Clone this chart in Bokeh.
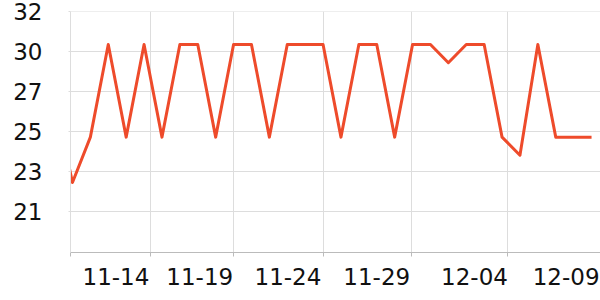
from bokeh.plotting import figure
from bokeh.models import FixedTicker, Range1d, NumeralTickFormatter
from bokeh.embed import file_html
from bokeh.resources import INLINE

# one reading per day, first one (11-09) lies just left of the visible window
dates = ["11-09", "11-10", "11-11", "11-12", "11-13", "11-14", "11-15", "11-16",
         "11-17", "11-18", "11-19", "11-20", "11-21", "11-22", "11-23", "11-24",
         "11-25", "11-26", "11-27", "11-28", "11-29", "11-30", "12-01", "12-02",
         "12-03", "12-04", "12-05", "12-06", "12-07", "12-08", "12-09"]
temps = [27.0, 22.4, 24.9, 30.0, 24.9, 30.0, 24.9, 30.0, 30.0, 24.9, 30.0,
         30.0, 24.9, 30.0, 30.0, 30.0, 24.9, 30.0, 30.0, 24.9, 30.0, 30.0,
         29.0, 30.0, 30.0, 24.9, 23.9, 30.0, 24.9, 24.9, 24.9]

x_labels = ["11-14", "11-19", "11-24", "11-29", "12-04", "12-09"]
x_label_pos = [3.43, 8.11, 13.04, 18.0, 23.46, 28.58]
x_grid_pos = [5.36, 10.0, 15.0, 19.94, 25.3]
y_ticks = [20.8, 23.0, 25.2, 27.4, 29.6, 31.8]

xs = list(range(len(dates)))

p = figure(width=600, height=300, output_backend="svg", toolbar_location=None,
           x_range=Range1d(0.89, 30.5), y_range=Range1d(18.545, 31.82),
           min_border_left=70, min_border_right=0, min_border_top=11,
           min_border_bottom=48)
p.outline_line_color = None
p.background_fill_color = "white"
p.border_fill_color = "white"

p.line(xs, temps, line_color="#EE4B2B", line_width=3, line_join="round")

font = "DejaVu Sans"
# x axis
p.xaxis.ticker = FixedTicker(ticks=x_label_pos, minor_ticks=[0.89] + x_grid_pos)
p.xaxis.major_label_overrides = {x_label_pos[i]: x_labels[i] for i in range(len(x_labels))}
p.xaxis.major_tick_out = 0
p.xaxis.major_tick_in = 0
p.xaxis.minor_tick_out = 4
p.xaxis.minor_tick_in = 0
p.xaxis.minor_tick_line_color = "#bbbbbb"
p.xaxis.axis_line_color = "#bbbbbb"
p.xaxis.major_label_text_font = font
p.xaxis.major_label_text_font_size = "23px"
p.xaxis.major_label_text_color = "#111111"
p.xaxis.major_label_standoff = 11

# y axis
p.yaxis.ticker = FixedTicker(ticks=y_ticks)
p.yaxis.formatter = NumeralTickFormatter(format="0")
p.yaxis.axis_line_color = "#dddddd"
p.yaxis.major_tick_line_color = "#dddddd"
p.yaxis.major_tick_out = 2
p.yaxis.major_tick_in = 0
p.yaxis.minor_tick_line_color = None
p.yaxis.major_label_text_font = font
p.yaxis.major_label_text_font_size = "23px"
p.yaxis.major_label_text_color = "#111111"
p.yaxis.major_label_standoff = 26

p.xgrid.ticker = FixedTicker(ticks=x_grid_pos)
p.xgrid.grid_line_color = "#dddddd"
p.ygrid.grid_line_color = "#dddddd"

open("out.html", "w").write(file_html(p, INLINE))
